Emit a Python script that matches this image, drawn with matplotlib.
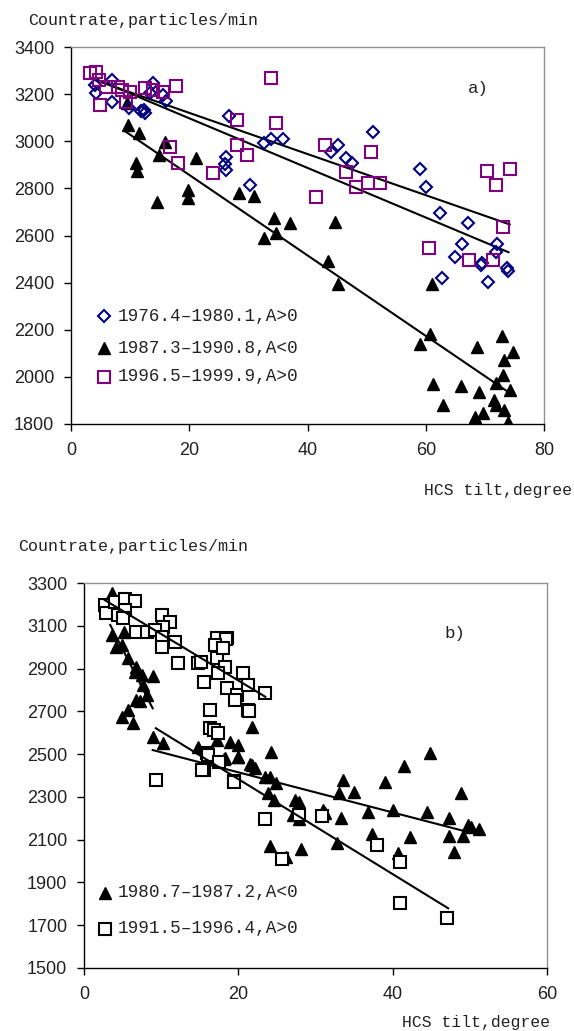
import matplotlib
matplotlib.use("Agg")
import matplotlib.pyplot as plt
import numpy as np

# ---------------- Panel a) data ----------------
a_diam_x = [4.1, 4.3, 6.9, 6.9, 9.8, 11.8, 12.3, 12.5, 13.8, 13.3, 15.6, 16.1,
            26.7, 26.3, 26.0, 26.2, 30.2, 32.6, 33.9, 35.9,
            51.1, 45.1, 43.9, 46.5, 47.5, 59.0, 60.0, 62.4, 67.2, 66.2, 65.0,
            69.5, 72.0, 71.8, 73.8, 62.7, 69.3, 70.6, 73.9]
a_diam_y = [3239, 3203, 3260, 3168, 3140, 3128, 3132, 3118, 3246, 3203, 3196, 3172,
            3107, 2934, 2905, 2880, 2814, 2991, 3008, 3008,
            3041, 2984, 2956, 2927, 2906, 2882, 2807, 2697, 2654, 2564, 2510,
            2484, 2564, 2530, 2460, 2418, 2475, 2401, 2451]

a_tri_x = [9.4, 9.6, 11.5, 11.0, 11.2, 14.5, 14.8, 15.9, 21.1, 19.8, 19.8,
           28.4, 30.9, 34.3, 34.7, 32.6, 37.0, 44.6, 43.5, 45.2,
           61.0, 60.8, 59.0, 61.3, 63.0, 65.9, 68.6, 69.0, 68.3, 69.6,
           72.9, 74.8, 73.2, 73.0, 71.8, 74.2, 71.6, 71.8, 73.2, 73.9]
a_tri_y = [3161, 3069, 3036, 2909, 2874, 2743, 2942, 2998, 2930, 2793, 2758,
           2782, 2769, 2676, 2609, 2591, 2654, 2658, 2492, 2393,
           2393, 2182, 2139, 1970, 1880, 1962, 2125, 1937, 1828, 1845,
           2173, 2107, 2072, 2008, 1973, 1944, 1902, 1880, 1859, 1810]

a_sq_x = [3.2, 4.2, 4.8, 4.9, 6.0, 8.0, 8.6, 10.0, 9.3, 12.5, 13.9, 15.6, 17.7,
          16.7, 18.1, 24.0, 28.0, 28.0, 29.7, 33.9, 34.6,
          42.9, 41.5, 46.5, 48.2, 50.3, 52.2, 50.8, 60.5, 67.3, 71.3,
          70.3, 71.8, 74.2, 73.0]
a_sq_y = [3288, 3295, 3260, 3154, 3232, 3232, 3218, 3210, 3168, 3225, 3218, 3210, 3234,
          2974, 2906, 2864, 3090, 2984, 2942, 3270, 3076,
          2984, 2765, 2871, 2807, 2821, 2821, 2956, 2546, 2496, 2496,
          2874, 2814, 2882, 2637]

# trend lines panel a (endpoints)
a_fit_sq_x, a_fit_sq_y = [3.8, 74.2], [3262, 2647]
a_fit_dm_x, a_fit_dm_y = [3.8, 74.0], [3268, 2529]
a_fit_tr_x, a_fit_tr_y = [9.0, 74.0], [3045, 1935]

a_labels = ["1976.4\u20131980.1,A>0", "1987.3\u20131990.8,A<0", "1996.5\u20131999.9,A>0"]

# ---------------- Panel b) data ----------------
b_tri_x = [3.6, 3.6, 5.2, 4.2, 4.9, 5.7, 6.8, 6.6, 7.5, 9.0, 7.7, 8.1, 6.8, 7.3,
           5.7, 4.9, 6.4, 8.9, 10.3, 14.8, 15.9, 17.2, 18.3, 18.9, 19.9, 20.0,
           21.8, 21.8, 24.2, 18.1, 20.0, 21.5, 22.2, 23.5, 24.1, 24.9, 23.9, 24.6,
           27.3, 27.9, 27.1, 27.9, 24.1, 26.2, 28.1,
           31.0, 31.2, 33.3, 32.8, 33.5, 33.1, 35.0, 36.8, 37.3, 39.0, 40.0, 40.7,
           41.5, 42.2, 44.4, 44.9, 47.3, 47.3, 47.9, 48.8, 49.1, 49.8, 50.2, 51.2]
b_tri_y = [3255, 3057, 3072, 3002, 3010, 2948, 2909, 2885, 2870, 2865, 2823, 2776, 2753, 2750,
           2706, 2675, 2644, 2581, 2553, 2535, 2488, 2566, 2480, 2558, 2543, 2488,
           2628, 2449, 2509, 2476, 2485, 2454, 2434, 2394, 2394, 2363, 2317, 2286,
           2286, 2278, 2215, 2195, 2070, 2018, 2055,
           2239, 2223, 2200, 2083, 2379, 2317, 2324, 2231, 2127, 2371, 2239, 2036,
           2444, 2111, 2231, 2504, 2200, 2117, 2044, 2317, 2117, 2169, 2158, 2148]

b_sq_x = [2.7, 2.9, 4.0, 5.3, 6.6, 4.4, 5.3, 5.1, 6.8, 8.1, 10.1, 11.1, 10.3, 9.2,
          10.1, 10.1, 11.8, 12.2, 14.8, 15.2, 17.2, 18.5, 17.8, 17.2, 18.3, 17.4,
          15.5, 18.5, 19.8, 20.6, 21.3, 19.6, 16.3, 21.3, 16.3, 16.8, 17.4, 15.9,
          18.4, 17.0, 18.0, 23.5, 21.4, 15.5, 19.5,
          9.3, 15.3, 16.1, 17.5, 19.4, 23.4, 25.6, 27.8, 30.8, 38.0, 40.9, 40.9, 47.1]
b_sq_y = [3197, 3158, 3213, 3225, 3216, 3150, 3174, 3135, 3070, 3072, 3150, 3119, 3096, 3080,
          3049, 3002, 3026, 2925, 2925, 2932, 3041, 3041, 2995, 2948, 2909, 2878,
          2839, 2808, 2776, 2878, 2823, 2753, 2706, 2706, 2621, 2613, 2597, 2504,
          3038, 3010, 2995, 2787, 2703, 2426, 2374,
          2379, 2426, 2496, 2465, 2371, 2195, 2008, 2215, 2211, 2075, 1997, 1805, 1732]

b_fit_sq1_x, b_fit_sq1_y = [2.7, 23.5], [3220, 2768]
b_fit_tr1_x, b_fit_tr1_y = [3.4, 8.9], [3104, 2714]
b_fit_tr2_x, b_fit_tr2_y = [8.9, 49.1], [2519, 2142]
b_fit_sq2_x, b_fit_sq2_y = [9.3, 47.2], [2621, 1779]

b_labels = ["1980.7\u20131987.2,A<0", "1991.5\u20131996.4,A>0"]

# ---------------- Styling ----------------
MONO = ["Liberation Mono", "DejaVu Sans Mono"]
SANS = ["Liberation Sans", "DejaVu Sans"]
plt.rcParams['font.family'] = SANS
TXT = "#222222"

W, H = 574, 1031
fig = plt.figure(figsize=(W / 100, H / 100), dpi=100)

def style_axes(ax):
    for s in ["left", "bottom"]:
        ax.spines[s].set_color("black")
        ax.spines[s].set_linewidth(1.0)
    for s in ["top", "right"]:
        ax.spines[s].set_color("#909090")
        ax.spines[s].set_linewidth(1.0)
    ax.tick_params(direction="out", length=5, width=1, labelsize=13,
                   top=False, right=False, labelcolor=TXT)
    ax.tick_params(axis="x", pad=8)
    ax.tick_params(axis="y", pad=7)
    for lab in ax.get_xticklabels() + ax.get_yticklabels():
        lab.set_family(SANS)

# Panel a
ax1 = fig.add_axes([71 / W, 1 - 424 / H, 473 / W, 377 / H])
ax1.set_xlim(0, 80)
ax1.set_ylim(1800, 3400)
ax1.set_xticks([0, 20, 40, 60, 80])
ax1.set_yticks(np.arange(1800, 3401, 200))
for fx, fy in [(a_fit_sq_x, a_fit_sq_y), (a_fit_dm_x, a_fit_dm_y), (a_fit_tr_x, a_fit_tr_y)]:
    ax1.plot(fx, fy, color="black", lw=1.5, zorder=3)
ax1.plot(a_tri_x, a_tri_y, ls="none", marker="^", ms=9, color="black", zorder=2)
ax1.plot(a_diam_x, a_diam_y, ls="none", marker="D", ms=6, mfc="none", mec="#000080",
         mew=1.5, zorder=4)
ax1.plot(a_sq_x, a_sq_y, ls="none", marker="s", ms=8.5, mfc="none", mec="#800080",
         mew=1.5, zorder=4)
style_axes(ax1)
ax1.text(0.86, 0.89, "a)", transform=ax1.transAxes, family=MONO, fontsize=12.5,
         ha="center", va="center", color=TXT)
# legend a
leg_rows_y = [316, 348, 377]
leg_markers = [dict(marker="D", ms=6, mfc="none", mec="#000080", mew=1.5),
               dict(marker="^", ms=9, color="black"),
               dict(marker="s", ms=8.5, mfc="none", mec="#800080", mew=1.5)]
for lab, yy, mk in zip(a_labels, leg_rows_y, leg_markers):
    fy = 1 - yy / H
    fig.lines.append(matplotlib.lines.Line2D([104 / W], [fy], ls="none",
                                             transform=fig.transFigure, **mk))
    fig.text(118 / W, fy, lab, family=MONO, fontsize=12.7, va="center", ha="left",
             color=TXT)

fig.text(28 / W, 1 - 20 / H, "Countrate,particles/min", family=MONO, fontsize=12,
         va="center", ha="left", color=TXT)
fig.text(572 / W, 1 - 491 / H, "HCS tilt,degree", family=MONO, fontsize=11.8,
         va="center", ha="right", color=TXT)

# Panel b
ax2 = fig.add_axes([84 / W, 1 - 968 / H, 463 / W, 385 / H])
ax2.set_xlim(0, 60)
ax2.set_ylim(1500, 3300)
ax2.set_xticks([0, 20, 40, 60])
ax2.set_yticks(np.arange(1500, 3301, 200))
for fx, fy in [(b_fit_sq1_x, b_fit_sq1_y), (b_fit_tr1_x, b_fit_tr1_y),
               (b_fit_tr2_x, b_fit_tr2_y), (b_fit_sq2_x, b_fit_sq2_y)]:
    ax2.plot(fx, fy, color="black", lw=1.5, zorder=3)
ax2.plot(b_tri_x, b_tri_y, ls="none", marker="^", ms=9, color="black", zorder=2)
ax2.plot(b_sq_x, b_sq_y, ls="none", marker="s", ms=9, mfc="white", mec="black",
         mew=1.5, zorder=2)
style_axes(ax2)
ax2.text(0.80, 0.87, "b)", transform=ax2.transAxes, family=MONO, fontsize=12.5,
         ha="center", va="center", color=TXT)
leg_rows_y_b = [893, 929]
leg_markers_b = [dict(marker="^", ms=9, color="black"),
                 dict(marker="s", ms=9, mfc="white", mec="black", mew=1.5)]
for lab, yy, mk in zip(b_labels, leg_rows_y_b, leg_markers_b):
    fy = 1 - yy / H
    fig.lines.append(matplotlib.lines.Line2D([105 / W], [fy], ls="none",
                                             transform=fig.transFigure, **mk))
    fig.text(118 / W, fy, lab, family=MONO, fontsize=12.7, va="center", ha="left",
             color=TXT)

fig.text(18 / W, 1 - 546 / H, "Countrate,particles/min", family=MONO, fontsize=12,
         va="center", ha="left", color=TXT)
fig.text(550 / W, 1 - 1022 / H, "HCS tilt,degree", family=MONO, fontsize=11.8,
         va="center", ha="right", color=TXT)

fig.savefig("out.png", dpi=100)
